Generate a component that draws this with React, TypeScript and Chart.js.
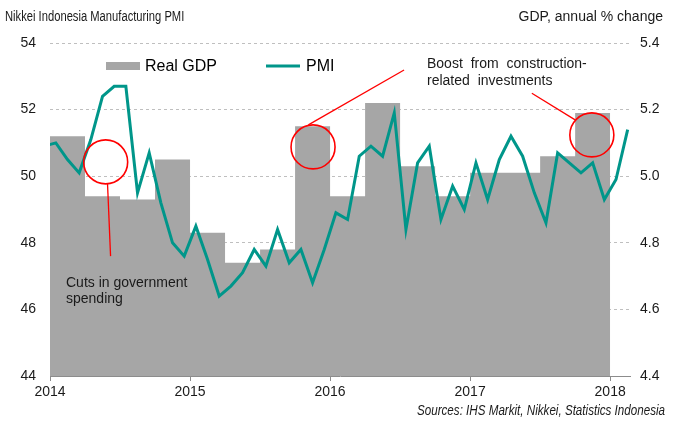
import React, { useEffect, useRef } from "react";
import { Chart, registerables } from "chart.js";

Chart.register(...registerables);

// ---------- data ----------
const PMI_START_YEAR = 2013;
const PMI_START_MONTH = 12; // first value is Dec 2013 (clipped at the left edge)
const PMI_VALUES = [
  50.9,
  51.0, 50.5, 50.1, 51.1, 52.4, 52.7, 52.7, 49.5, 50.7, 49.2, 48.0, 47.6,
  48.5, 47.5, 46.4, 46.7, 47.1, 47.8, 47.3, 48.4, 47.4, 47.8, 46.8, 47.8,
  48.9, 48.7, 50.6, 50.9, 50.6, 51.9, 48.4, 50.4, 50.9, 48.7, 49.7, 49.0,
  50.4, 49.3, 50.5, 51.2, 50.6, 49.5, 48.6, 50.7, 50.4, 50.1, 50.4, 49.3,
  49.9, 51.4,
];

const GDP_QUARTERS = [
  "2014Q1", "2014Q2", "2014Q3", "2014Q4",
  "2015Q1", "2015Q2", "2015Q3", "2015Q4",
  "2016Q1", "2016Q2", "2016Q3", "2016Q4",
  "2017Q1", "2017Q2", "2017Q3", "2017Q4",
];
const GDP_VALUES = [
  5.12, 4.94, 4.93, 5.05,
  4.83, 4.74, 4.78, 5.15,
  4.94, 5.22, 5.03, 4.94,
  5.01, 5.01, 5.06, 5.19,
];

const YEAR_LABELS = ["2014", "2015", "2016", "2017", "2018"];
const BASE_YEAR = 2014;

// ---------- helpers ----------
const monthOffset = (year: number, month: number) => (year - BASE_YEAR) * 12 + (month - 1);

const pmiPoints = PMI_VALUES.map((v, i) => {
  const total = PMI_START_MONTH - 1 + i;
  const year = PMI_START_YEAR + Math.floor(total / 12);
  const month = (total % 12) + 1;
  return { x: monthOffset(year, month) + 0.5, y: v };
});

// step points: each quarter's value held from the quarter start to its end
const gdpPoints: { x: number; y: number }[] = [];
GDP_QUARTERS.forEach((q, i) => {
  const year = parseInt(q.slice(0, 4), 10);
  const qn = parseInt(q.slice(5), 10);
  const start = monthOffset(year, (qn - 1) * 3 + 1);
  if (i === 0) gdpPoints.push({ x: start, y: GDP_VALUES[i] });
  gdpPoints.push({ x: start + 3, y: GDP_VALUES[i] });
});

// ---------- styles ----------
const TEAL = "#00968a";
const GREY = "#a6a6a6";
const RED = "#ff0000";
const REGULAR = "'Liberation Sans', Arial, sans-serif";

// annotation anchors (x in months from Jan 2014, y in PMI units)
const CIRCLES = [
  { x: 4.77, y: 50.43 },
  { x: 22.54, y: 50.88 },
  { x: 46.43, y: 51.24 },
];
const POINTERS = [
  { x1: 4.93, y1: 49.77, x2: 5.19, y2: 47.6 },
  { x1: 22.14, y1: 51.54, x2: 30.34, y2: 53.19 },
  { x1: 41.29, y1: 52.49, x2: 45.0, y2: 51.69 },
];

function narrowText(ctx: CanvasRenderingContext2D, text: string, x: number, y: number, sx: number, align: "left" | "right") {
  ctx.save();
  ctx.translate(x, y);
  ctx.scale(sx, 1);
  ctx.textAlign = align;
  ctx.fillText(text, 0, 0);
  ctx.restore();
}

const overlayPlugin = {
  id: "overlay",
  afterDatasetsDraw(chart: any) {
    const ctx = chart.ctx as CanvasRenderingContext2D;
    const xs = chart.scales.x;
    const ys = chart.scales.y;
    ctx.save();
    // circles
    ctx.strokeStyle = RED;
    ctx.lineWidth = 1.6;
    CIRCLES.forEach((c) => {
      ctx.beginPath();
      ctx.arc(xs.getPixelForValue(c.x), ys.getPixelForValue(c.y), 22, 0, Math.PI * 2);
      ctx.stroke();
    });
    ctx.lineWidth = 1.3;
    POINTERS.forEach((p) => {
      ctx.beginPath();
      ctx.moveTo(xs.getPixelForValue(p.x1), ys.getPixelForValue(p.y1));
      ctx.lineTo(xs.getPixelForValue(p.x2), ys.getPixelForValue(p.y2));
      ctx.stroke();
    });

    // annotation texts
    ctx.fillStyle = "#1a1a1a";
    ctx.font = `14px ${REGULAR}`;
    ctx.textBaseline = "middle";
    ctx.textAlign = "left";
    ctx.fillText("Cuts in government", 66, 283);
    ctx.fillText("spending", 66, 299);
    (ctx as any).wordSpacing = "4px";
    ctx.fillText("Boost from construction-", 427, 64);
    ctx.fillText("related investments", 427, 81);
    (ctx as any).wordSpacing = "0px";

    // legend
    ctx.fillStyle = GREY;
    ctx.fillRect(106, 62, 34, 8);
    ctx.fillStyle = "#000";
    ctx.font = `16px ${REGULAR}`;
    ctx.fillText("Real GDP", 145, 67);
    ctx.strokeStyle = TEAL;
    ctx.lineWidth = 3;
    ctx.beginPath();
    ctx.moveTo(266, 66);
    ctx.lineTo(300, 66);
    ctx.stroke();
    ctx.fillText("PMI", 306, 67);

    // titles
    ctx.font = `14px ${REGULAR}`;
    ctx.fillStyle = "#1a1a1a";
    narrowText(ctx, "Nikkei Indonesia Manufacturing PMI", 5, 17, 0.8, "left");
    narrowText(ctx, "GDP, annual % change", 663, 17, 1, "right");
    ctx.font = `italic 14px ${REGULAR}`;
    narrowText(ctx, "Sources: IHS Markit, Nikkei, Statistics Indonesia", 665, 411, 0.83, "right");
    ctx.restore();
  },
};

export default function App() {
  const ref = useRef<HTMLCanvasElement | null>(null);

  useEffect(() => {
    document.body.style.margin = "0";
    if (!ref.current) return;
    const tickFont = { family: REGULAR, size: 14 };
    const chart = new Chart(ref.current, {
      type: "line",
      data: {
        datasets: [
          {
            label: "PMI",
            data: pmiPoints,
            yAxisID: "y",
            borderColor: TEAL,
            borderWidth: 3,
            pointRadius: 0,
            tension: 0,
            fill: false,
            order: 1,
          } as any,
          {
            label: "Real GDP",
            data: gdpPoints,
            yAxisID: "y1",
            stepped: "after",
            fill: "start",
            backgroundColor: GREY,
            borderColor: GREY,
            borderWidth: 0,
            pointRadius: 0,
            order: 2,
          } as any,
        ],
      },
      options: {
        animation: false,
        responsive: false,
        devicePixelRatio: 1,
        layout: { padding: { top: 43, left: 0, right: 0, bottom: 0 } },
        plugins: { legend: { display: false }, tooltip: { enabled: false } },
        scales: {
          x: {
            type: "linear",
            min: 0,
            max: 49.7,
            afterBuildTicks: (s: any) => {
              s.ticks = YEAR_LABELS.map((_, i) => ({ value: i * 12 }));
            },
            ticks: {
              callback: (_v: any, i: number) => YEAR_LABELS[i],
              color: "#1a1a1a",
              font: tickFont,
              padding: 3,
              maxRotation: 0,
              autoSkip: false,
            },
            grid: { drawOnChartArea: false, drawTicks: true, tickLength: 5, color: "#8c8c8c" },
            border: { display: true, color: "#8c8c8c", width: 1 },
            afterFit: (s: any) => {
              s.height = 52;
            },
          },
          y: {
            position: "left",
            min: 44,
            max: 54,
            ticks: { stepSize: 2, color: "#1a1a1a", font: tickFont, padding: 14 },
            grid: {
              drawTicks: false,
              color: (c: any) => (c.tick && c.tick.value === 44 ? "rgba(0,0,0,0)" : "#bfbfbf"),
              lineWidth: 1,
            },
            border: { display: false, dash: [3, 3] },
            afterFit: (s: any) => {
              s.width = 50;
            },
          },
          y1: {
            position: "right",
            min: 4.4,
            max: 5.4,
            ticks: {
              stepSize: 0.2,
              color: "#1a1a1a",
              font: tickFont,
              padding: 10,
              callback: (v: any) => Number(v).toFixed(1),
            },
            grid: { display: false, drawTicks: false },
            border: { display: false },
            afterFit: (s: any) => {
              s.width = 49;
            },
          },
        },
      } as any,
      plugins: [overlayPlugin],
    });
    return () => chart.destroy();
  }, []);

  return (
    <div style={{ width: 679, height: 428, background: "#fff" }}>
      <canvas ref={ref} width={679} height={428} style={{ display: "block", width: 679, height: 428 }} />
    </div>
  );
}
